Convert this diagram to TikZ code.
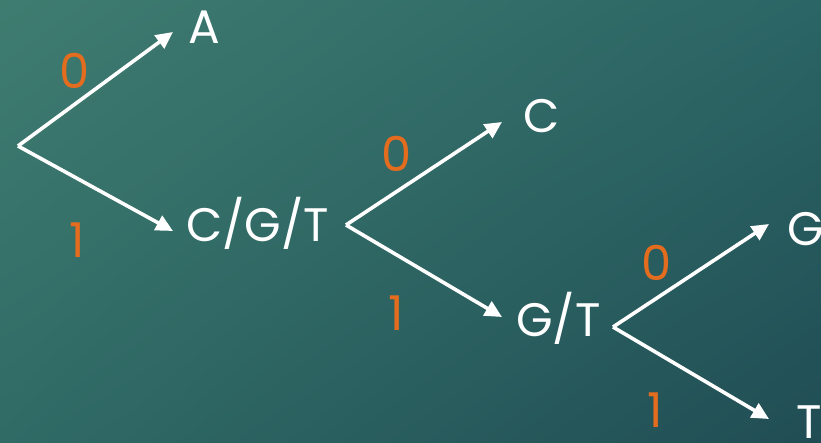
\documentclass[tikz,border=0pt]{standalone}
\usepackage{fontspec}
\setmainfont{Poppins}
\usetikzlibrary{arrows.meta,shadings}
\definecolor{bgA}{HTML}{3F7C70}
\definecolor{bgB}{HTML}{2B6565}
\definecolor{bgC}{HTML}{306B66}
\definecolor{bgD}{HTML}{204D54}
\definecolor{bitorange}{HTML}{E46C1E}
\tikzset{
  lbl/.style={inner sep=0pt, anchor=base west, text=white, text height=34pt, text depth=0pt,
    font=\fontsize{47}{50}\selectfont},
  bit/.style={inner sep=0pt, text=bitorange, text height=34pt, text depth=0pt,
    font=\fontsize{48}{50}\selectfont},
  arr/.style={draw=white, line width=3.6pt, -{Triangle[length=17pt,width=16pt]}}
}
\begin{document}
\begin{tikzpicture}[x=1pt,y=-1pt]
\useasboundingbox (0,0) rectangle (821,442);
\shade[upper left=bgA, upper right=bgB, lower left=bgC, lower right=bgD] (0,0) rectangle (821,442);
% branching points
\coordinate (r1) at (18,146);
\coordinate (r2) at (346,225);
\coordinate (r3) at (613,327);
% labels
\node[lbl] (A) at (188,43) {A};
\node[lbl] (CGT) at (186,241) {C/G/T};
\node[lbl] (C) at (523,132) {C};
\node[lbl] (GT) at (516,336) {G/T};
\node[lbl] (G) at (787,245) {G};
\node[lbl] (T) at (796,438) {T};
% bits
\node[bit] (b10) at (75,71) {0};
\node[bit] (b11) at (77,240) {1};
\node[bit] (b20) at (397,154) {0};
\node[bit] (b21) at (396,313) {1};
\node[bit] (b30) at (657,263) {0};
\node[bit] (b31) at (655,410) {1};
% connectors
\draw[arr] (r1) -- ([xshift=-15pt,yshift=-6pt]A.west);
\draw[arr] (r1) -- ([xshift=-13pt,yshift=-7pt]CGT.west);
\draw[arr] (r2) -- ([xshift=-21pt,yshift=-7pt]C.west);
\draw[arr] (r2) -- ([xshift=-14pt,yshift=2pt]GT.west);
\draw[arr] (r3) -- ([xshift=-18pt,yshift=4pt]G.west);
\draw[arr] (r3) -- ([xshift=-27pt,yshift=2pt]T.west);
\end{tikzpicture}
\end{document}
